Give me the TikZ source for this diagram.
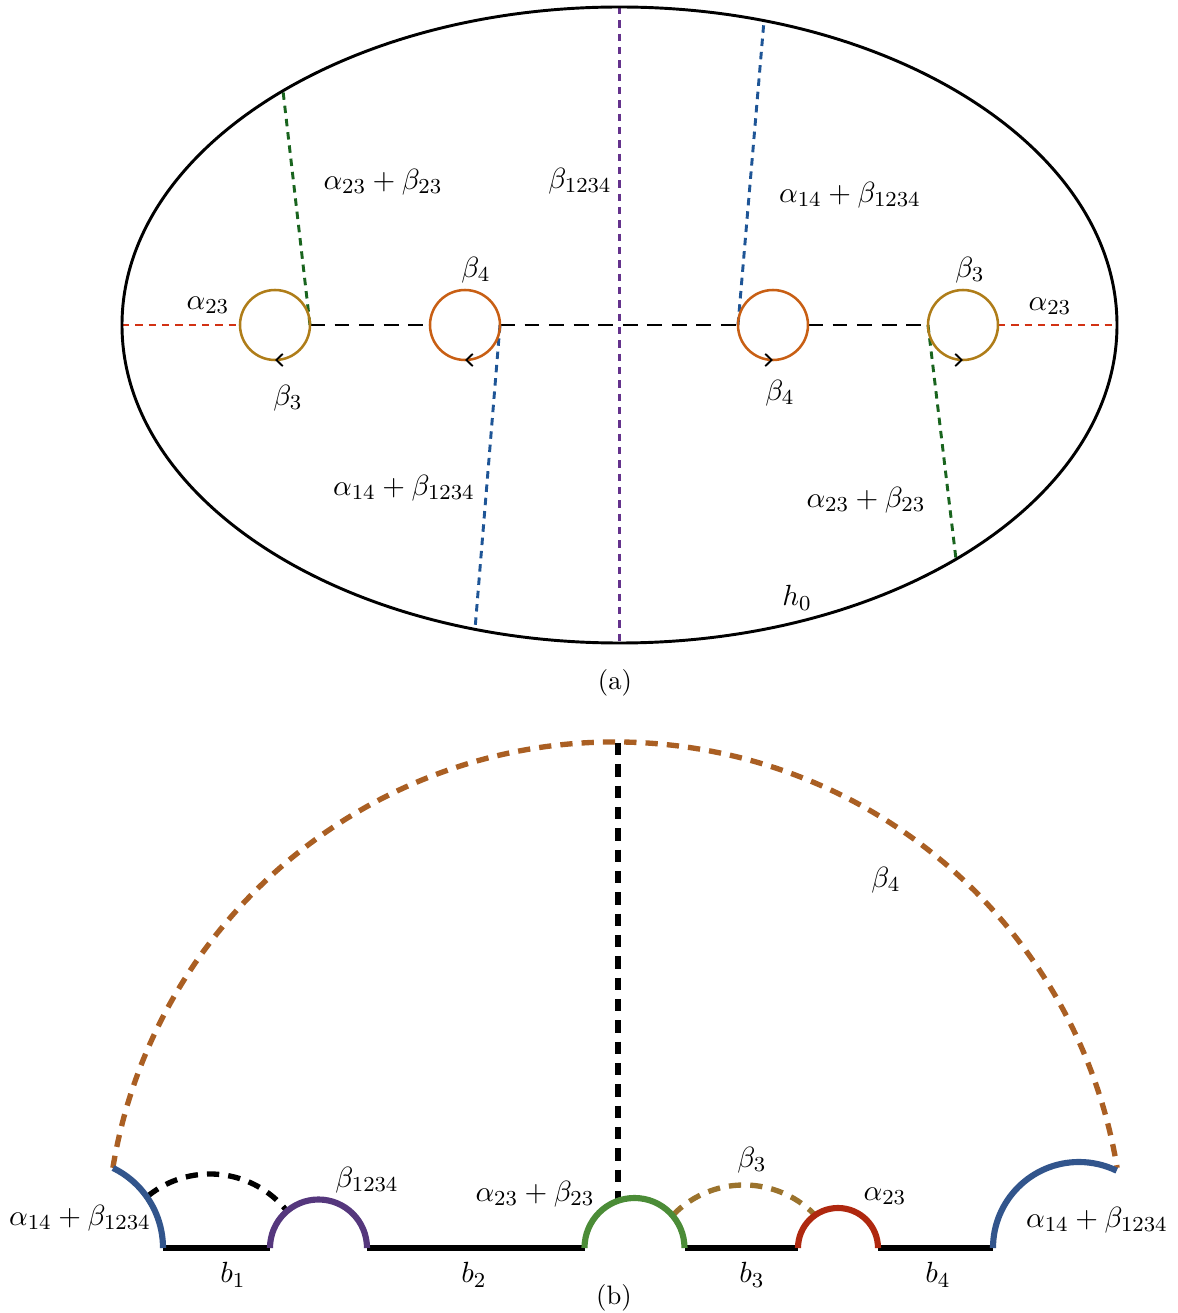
\documentclass[tikz,border=0pt]{standalone}
\usetikzlibrary{arrows.meta,calc,decorations.markings}
\definecolor{cgold}{RGB}{175,125,25}
\definecolor{corange}{RGB}{200,95,20}
\definecolor{cred}{RGB}{210,50,20}
\definecolor{cgreen}{RGB}{25,100,30}
\definecolor{cblue}{RGB}{30,85,150}
\definecolor{cpurple}{RGB}{100,50,140}
\definecolor{bblue}{RGB}{50,85,140}
\definecolor{bpurple}{RGB}{85,55,125}
\definecolor{bgreen}{RGB}{75,140,55}
\definecolor{bred}{RGB}{175,40,15}
\definecolor{bbrown}{RGB}{170,95,35}
\definecolor{bolive}{RGB}{155,115,45}
\begin{document}
\begin{tikzpicture}[x=0.375pt,y=0.375pt,
  lbl/.style={font=\fontsize{11.4}{13}\selectfont, inner sep=0pt},
  captxt/.style={font=\normalsize, inner sep=0pt},
  hole/.style={line width=0.95pt},
  cutdash/.style={line width=1.1pt, dash pattern=on 2.8pt off 2.2pt},
  blackdash/.style={line width=0.8pt, black, dash pattern=on 5.6pt off 3.6pt},
  larrow/.style={postaction={decorate}, decoration={markings, mark=at position 0.75 with {\arrowreversed[black, line width=0.7pt]{Straight Barb[length=2.4pt,width=4.6pt]}}}},
  rarrow/.style={postaction={decorate}, decoration={markings, mark=at position 0.75 with {\arrow[black, line width=0.7pt]{Straight Barb[length=2.4pt,width=4.6pt]}}}},
  thickarc/.style={line width=2.3pt},
  base/.style={line width=2pt, black},
  bdash/.style={line width=2pt, dash pattern=on 4.6pt off 3.4pt}]
\useasboundingbox (0,0) rectangle (1178,1313);

% ---------------- (a) ----------------
\coordinate (E) at (619.5,988);
\coordinate (C1) at (275,988);
\coordinate (C2) at (465,988);
\coordinate (C3) at (773,988);
\coordinate (C4) at (963,988);
\coordinate (EL) at (122,988);
\coordinate (ER) at (1117,988);
\coordinate (ET) at (619.5,1306);
\coordinate (EB) at (619.5,670);
\coordinate (G1) at (283,1222.2);
\coordinate (B1) at (475,683.7);
\coordinate (B2) at (764,1292.3);
\coordinate (G2) at (956,753.8);

\draw[cred, cutdash] (EL) -- ($(C1)+(-35,0)$);
\draw[cred, cutdash] ($(C4)+(35,0)$) -- (ER);
\draw[blackdash] ($(C1)+(35,0)$) -- ($(C2)+(-35,0)$);
\draw[blackdash] ($(C2)+(35,0)$) -- ($(C3)+(-35,0)$);
\draw[blackdash] ($(C3)+(35,0)$) -- ($(C4)+(-35,0)$);
\draw[cpurple, cutdash] (ET) -- (EB);
\draw[cgreen, cutdash] ($(C1)+(35,0)$) -- (G1);
\draw[cblue, cutdash] ($(C2)+(35,0)$) -- (B1);
\draw[cblue, cutdash] ($(C3)+(-35,0)$) -- (B2);
\draw[cgreen, cutdash] ($(C4)+(-35,0)$) -- (G2);

\draw[cgold, hole, larrow] (C1) circle [radius=35];
\draw[corange, hole, larrow] (C2) circle [radius=35];
\draw[corange, hole, rarrow] (C3) circle [radius=35];
\draw[cgold, hole, rarrow] (C4) circle [radius=35];

\draw[line width=1.1pt] (E) ellipse [x radius=497.5, y radius=318];

\node[lbl] (la1) at (208,1008) {$\alpha_{23}$};
\node[lbl] (lb3a) at (288,915) {$\beta_3$};
\node[lbl] (lb4a) at (476,1043) {$\beta_4$};
\node[lbl] (lab1) at (383,1131) {$\alpha_{23}+\beta_{23}$};
\node[lbl] (lbb) at (580,1132) {$\beta_{1234}$};
\node[lbl] (lc1) at (850,1118) {$\alpha_{14}+\beta_{1234}$};
\node[lbl] (lc2) at (404,825) {$\alpha_{14}+\beta_{1234}$};
\node[lbl] (lb4b) at (780,920) {$\beta_4$};
\node[lbl] (lb3b) at (970,1043) {$\beta_3$};
\node[lbl] (la2) at (1050,1007) {$\alpha_{23}$};
\node[lbl] (lab2) at (866,813) {$\alpha_{23}+\beta_{23}$};
\node[lbl] (lh0) at (797,715) {$h_0$};
\node[captxt] (capa) at (615,630) {(a)};

% ---------------- (b) ----------------
\coordinate (LB) at (74,65);
\coordinate (PU) at (318.5,65);
\coordinate (GR) at (634.5,65);
\coordinate (RD) at (838,65);
\coordinate (RB) at (1079,65);
\coordinate (BR) at (615,62);
\coordinate (DA) at (210,40.5);
\coordinate (OA) at (744,29);

\draw[base] (163,65) -- (270,65);
\draw[base] (367,65) -- (584.5,65);
\draw[base] (684.5,65) -- (798,65);
\draw[base] (878,65) -- (993,65);

\draw[bbrown, bdash] ($(BR)+(170.6:509)$) arc [start angle=170.6, end angle=9.4, radius=509];
\coordinate (VT) at (618,570);
\coordinate (VB) at (618,112);
\draw[black, bdash] (VT) -- (VB);
\draw[black, bdash] ($(DA)+(129:98.5)$) arc [start angle=129, end angle=38.6, radius=98.5];
\draw[bolive, bdash] ($(OA)+(135.8:99)$) arc [start angle=135.8, end angle=42.9, radius=99];

\draw[bblue, thickarc] ($(LB)+(0:89)$) arc [start angle=0, end angle=64, radius=89];
\draw[bpurple, thickarc] ($(PU)+(180:48.5)$) arc [start angle=180, end angle=0, radius=48.5];
\draw[bgreen, thickarc] ($(GR)+(180:50)$) arc [start angle=180, end angle=0, radius=50];
\draw[bred, thickarc] ($(RD)+(180:40)$) arc [start angle=180, end angle=0, radius=40];
\draw[bblue, thickarc] ($(RB)+(180:86)$) arc [start angle=180, end angle=64, radius=86];

\node[lbl] (m1) at (80,95) {$\alpha_{14}+\beta_{1234}$};
\node[lbl] (m2) at (367,133) {$\beta_{1234}$};
\node[lbl] (m3) at (535,119) {$\alpha_{23}+\beta_{23}$};
\node[lbl] (m4) at (752,153) {$\beta_3$};
\node[lbl] (m5) at (885,117) {$\alpha_{23}$};
\node[lbl] (m6) at (1097,93) {$\alpha_{14}+\beta_{1234}$};
\node[lbl] (m7) at (886,433) {$\beta_4$};
\node[lbl] (n1) at (233,38) {$b_1$};
\node[lbl] (n2) at (474,38) {$b_2$};
\node[lbl] (n3) at (752,38) {$b_3$};
\node[lbl] (n4) at (938,38) {$b_4$};
\node[captxt] (capb) at (614,15) {(b)};
\end{tikzpicture}
\end{document}
